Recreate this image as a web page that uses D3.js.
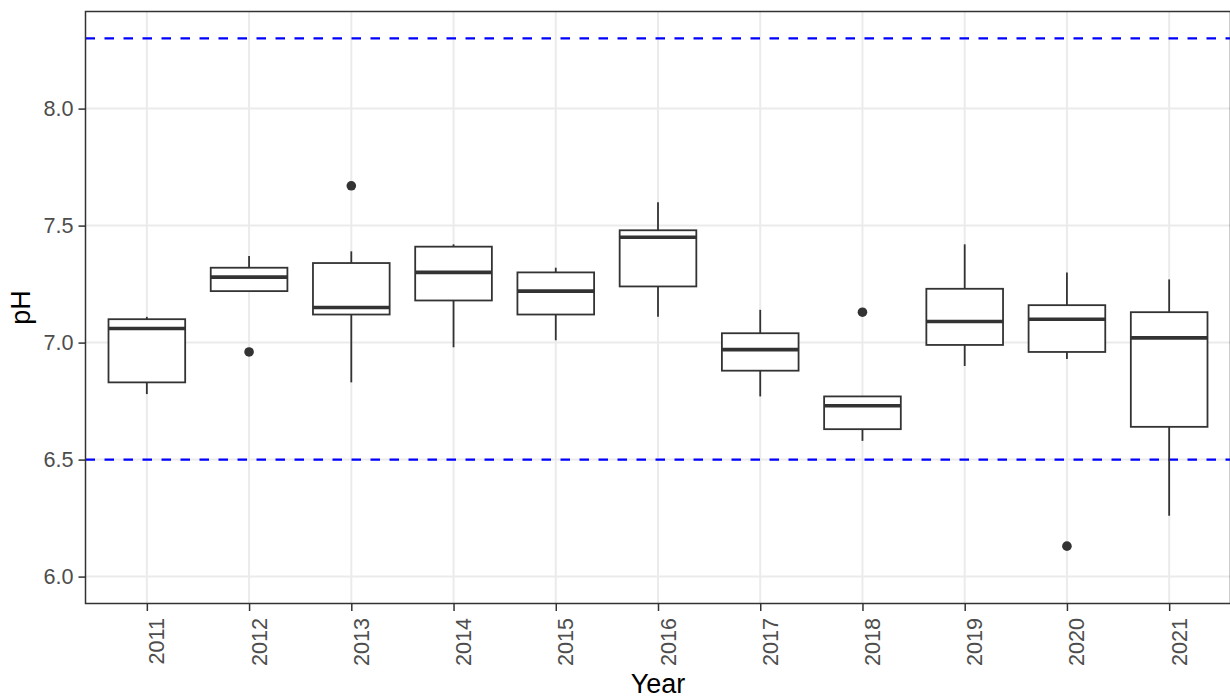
<!DOCTYPE html>
<html>
<head>
<meta charset="utf-8">
<script src="https://cdn.jsdelivr.net/npm/d3@7"></script>
<style>
  html, body { margin: 0; padding: 0; background: #fff; }
  svg { display: block; }
  text { font-family: "Liberation Sans", Arial, sans-serif; }
</style>
</head>
<body>
<svg id="chart" width="1230" height="698"></svg>
<script>
// ---- data ----
const years = ["2011","2012","2013","2014","2015","2016","2017","2018","2019","2020","2021"];
const whiskerLow  = [6.78, 7.22, 6.83, 6.98, 7.01, 7.11, 6.77, 6.58, 6.90, 6.93, 6.26];
const q1          = [6.83, 7.22, 7.12, 7.18, 7.12, 7.24, 6.88, 6.63, 6.99, 6.96, 6.64];
const median      = [7.06, 7.28, 7.15, 7.30, 7.22, 7.45, 6.97, 6.73, 7.09, 7.10, 7.02];
const q3          = [7.10, 7.32, 7.34, 7.41, 7.30, 7.48, 7.04, 6.77, 7.23, 7.16, 7.13];
const whiskerHigh = [7.11, 7.37, 7.39, 7.42, 7.32, 7.60, 7.14, 6.77, 7.42, 7.30, 7.27];
const outlierYears  = ["2012","2013","2018","2020"];
const outlierValues = [6.96, 7.67, 7.13, 6.13];
const refLines = [8.3, 6.5];
const yTicks = [6.0, 6.5, 7.0, 7.5, 8.0];
const yLimits = [6.0, 8.3];
const xTitle = "Year";
const yTitle = "pH";

// ---- layout ----
const svg = d3.select("#chart");
const panel = { left: 85.5, right: 1230.5, top: 11.5, bottom: 603.5 };
const ink = "#333333";
const tickFont = "21.6px";
const titleFont = "27px";

const x = d3.scalePoint().domain(years).range([panel.left, panel.right]).padding(0.6);
const pad = (yLimits[1] - yLimits[0]) * 0.05;
const y = d3.scaleLinear().domain([yLimits[0] - pad, yLimits[1] + pad]).range([panel.bottom, panel.top]);
const boxW = x.step() * 0.75;

// grid
const g = svg.append("g");
g.selectAll("line.gy").data(yTicks).join("line")
  .attr("x1", panel.left).attr("x2", panel.right)
  .attr("y1", d => y(d)).attr("y2", d => y(d))
  .attr("stroke", "#EBEBEB").attr("stroke-width", 2);
g.selectAll("line.gx").data(years).join("line")
  .attr("x1", d => x(d)).attr("x2", d => x(d))
  .attr("y1", panel.top).attr("y2", panel.bottom)
  .attr("stroke", "#EBEBEB").attr("stroke-width", 2);

// reference lines
g.selectAll("line.ref").data(refLines).join("line")
  .attr("x1", panel.left).attr("x2", panel.right)
  .attr("y1", d => y(d)).attr("y2", d => y(d))
  .attr("stroke", "#0000FF").attr("stroke-width", 2.1)
  .attr("stroke-dasharray", "9.5,9.5");

// boxes
const rows = years.map((yr, i) => ({ yr, lo: whiskerLow[i], q1: q1[i], med: median[i], q3: q3[i], hi: whiskerHigh[i] }));
const bx = g.selectAll("g.box").data(rows).join("g");
bx.append("line")
  .attr("x1", d => x(d.yr)).attr("x2", d => x(d.yr))
  .attr("y1", d => y(d.q3)).attr("y2", d => y(d.hi))
  .attr("stroke", ink).attr("stroke-width", 1.8);
bx.append("line")
  .attr("x1", d => x(d.yr)).attr("x2", d => x(d.yr))
  .attr("y1", d => y(d.q1)).attr("y2", d => y(d.lo))
  .attr("stroke", ink).attr("stroke-width", 1.8);
bx.append("rect")
  .attr("x", d => x(d.yr) - boxW / 2).attr("width", boxW)
  .attr("y", d => y(d.q3)).attr("height", d => y(d.q1) - y(d.q3))
  .attr("fill", "#fff").attr("stroke", ink).attr("stroke-width", 1.8);
bx.append("line")
  .attr("x1", d => x(d.yr) - boxW / 2).attr("x2", d => x(d.yr) + boxW / 2)
  .attr("y1", d => y(d.med)).attr("y2", d => y(d.med))
  .attr("stroke", ink).attr("stroke-width", 3.6);

// outliers
g.selectAll("circle.out").data(outlierYears.map((yr, i) => ({ yr, v: outlierValues[i] }))).join("circle")
  .attr("cx", d => x(d.yr)).attr("cy", d => y(d.v)).attr("r", 4.8)
  .attr("fill", ink);

// panel border (right side falls off the canvas)
svg.append("rect")
  .attr("x", panel.left).attr("y", panel.top)
  .attr("width", panel.right - panel.left).attr("height", panel.bottom - panel.top)
  .attr("fill", "none").attr("stroke", ink).attr("stroke-width", 1.5);

// y axis
const yAxis = svg.append("g").attr("transform", `translate(${panel.left},0)`)
  .call(d3.axisLeft(y).tickValues(yTicks).tickFormat(d3.format(".1f")).tickSize(7).tickPadding(5));
yAxis.select(".domain").remove();
yAxis.selectAll(".tick line").attr("stroke", ink).attr("stroke-width", 1.5);
yAxis.selectAll(".tick text").attr("fill", "#4D4D4D").style("font-size", tickFont)
  .style("font-family", '"Liberation Sans", Arial, sans-serif');

// x axis
const xAxis = svg.append("g").attr("transform", `translate(0,${panel.bottom})`)
  .call(d3.axisBottom(x).tickSize(7.5).tickPadding(0));
xAxis.select(".domain").remove();
xAxis.selectAll(".tick line").attr("stroke", ink).attr("stroke-width", 1.5);
xAxis.selectAll(".tick text")
  .attr("fill", "#4D4D4D").style("font-size", tickFont)
  .style("font-family", '"Liberation Sans", Arial, sans-serif')
  .attr("text-anchor", "end")
  .attr("dy", null)
  .attr("x", 0).attr("y", 0)
  .attr("transform", "translate(17,14.5) rotate(-90)");

// titles
svg.append("text").attr("x", (panel.left + panel.right) / 2).attr("y", 692.5)
  .attr("text-anchor", "middle").style("font-size", titleFont).attr("fill", "#000").text(xTitle);
svg.append("text").attr("transform", `translate(30,${(panel.top + panel.bottom) / 2}) rotate(-90)`)
  .attr("text-anchor", "middle").style("font-size", titleFont).attr("fill", "#000").text(yTitle);
</script>
</body>
</html>
